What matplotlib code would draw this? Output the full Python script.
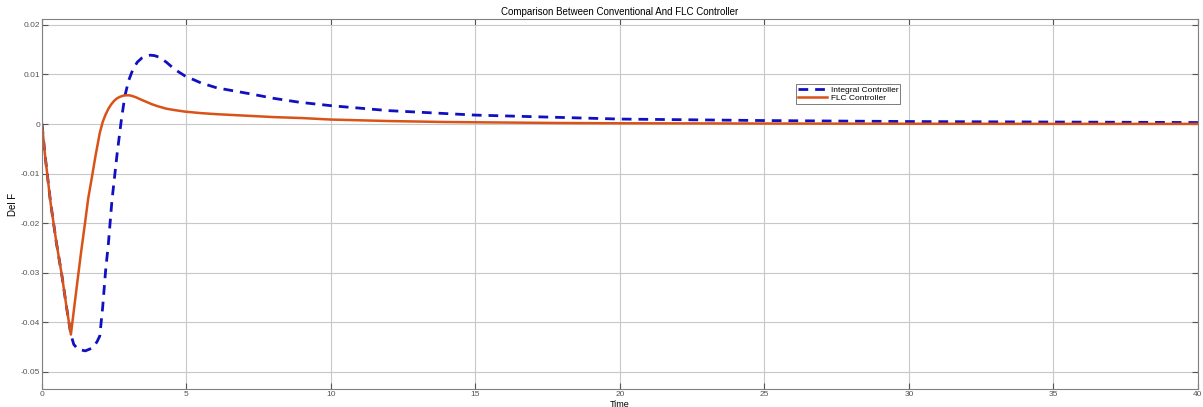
import matplotlib
matplotlib.use("Agg")
import matplotlib.pyplot as plt
from matplotlib.ticker import FuncFormatter

# values
t_flc = [0, 0.1, 0.2, 0.3, 0.5, 0.7, 0.85, 1.0, 1.2, 1.35, 1.5, 1.6, 1.72,
         1.85, 2.0, 2.1, 2.2, 2.3, 2.4, 2.5, 2.6, 2.7, 2.8, 2.9, 3.0, 3.1,
         3.25, 3.4, 3.6, 3.8, 4.0, 4.3, 4.6, 4.95, 5.5, 6, 7, 8, 9, 10, 12, 14,
         16, 18, 20, 25, 30, 35, 40]
flc = [0, -0.006, -0.011, -0.016, -0.024, -0.031, -0.037, -0.0425, -0.033,
       -0.026, -0.0195, -0.015, -0.011, -0.0065, -0.0018, 0.0004, 0.0019,
       0.0031, 0.004, 0.0047, 0.0052, 0.0055, 0.0057, 0.0058, 0.0058, 0.0057,
       0.0054, 0.005, 0.0045, 0.004, 0.0036, 0.0031, 0.0028, 0.0025, 0.0022,
       0.002, 0.0017, 0.0014, 0.0012, 0.0009, 0.0006, 0.0004, 0.0003, 0.0002,
       0.00015, 0.0001, 0.00005, 0.00003, 0.00002]

t_int = [0, 0.1, 0.2, 0.3, 0.5, 0.7, 0.85, 1.0, 1.1, 1.25, 1.5, 1.75, 1.9,
         2.0, 2.1, 2.2, 2.3, 2.42, 2.6, 2.75, 2.87, 3.0, 3.15, 3.3, 3.45, 3.6,
         3.75, 3.9, 4.05, 4.3, 4.6, 4.95, 5.5, 6.05, 7.2, 8.0, 8.9, 10, 12,
         15, 20, 25, 30, 35, 40]
integral = [0, -0.006, -0.011, -0.016, -0.024, -0.031, -0.037, -0.0425,
            -0.0445, -0.0455, -0.0458, -0.0452, -0.044, -0.0428, -0.037,
            -0.0297, -0.024, -0.0155, -0.006, 0.001, 0.0057, 0.0088, 0.0111,
            0.0125, 0.0133, 0.0137, 0.0139, 0.0138, 0.0135, 0.0125, 0.011,
            0.0097, 0.0083, 0.0073, 0.0061, 0.0052, 0.0044, 0.0037, 0.0027,
            0.0018, 0.001, 0.0007, 0.0005, 0.0004, 0.0003]

plt.rcParams["font.family"] = ["Liberation Sans", "DejaVu Sans"]

fig = plt.figure(figsize=(12.03, 4.07), dpi=100)
ax = fig.add_axes([0.0349, 0.0442, 0.9609, 0.9091])

ax.plot(t_int, integral, color="#1010c0", lw=2.0, ls=(0, (3.5, 2.5)),
        label="Integral Controller")
ax.plot(t_flc, flc, color="#d95319", lw=1.8, label="FLC Controller")

ax.set_xlim(0, 40)
ax.set_ylim(-0.0535, 0.0212)
ax.set_xticks(range(0, 41, 5))
ax.set_yticks([0.02, 0.01, 0, -0.01, -0.02, -0.03, -0.04, -0.05])
ax.yaxis.set_major_formatter(FuncFormatter(lambda v, p: ("%g" % round(v, 3))))
ax.grid(True, color="#c8c8c8", lw=0.8)
ax.tick_params(direction="in", top=True, right=True, labelsize=6,
               labelcolor="#555555", color="#555555", length=4, pad=1.5)
for s in ax.spines.values():
    s.set_color("#808080")

ax.set_title("Comparison Between Conventional And FLC Controller",
             fontsize=7, pad=3)
ax.set_xlabel("Time", fontsize=6.5, va="center")
ax.xaxis.set_label_coords(0.5, -0.042)
ax.set_ylabel("Del F", fontsize=7, labelpad=2)

leg = ax.legend(loc="upper left", bbox_to_anchor=(0.649, 0.835), fontsize=6,
                frameon=True, fancybox=False, edgecolor="#404040",
                handlelength=3.5, borderpad=0.2, labelspacing=0.1,
                handletextpad=0.4)
leg.get_frame().set_linewidth(0.6)

fig.savefig("out.png", dpi=100)
